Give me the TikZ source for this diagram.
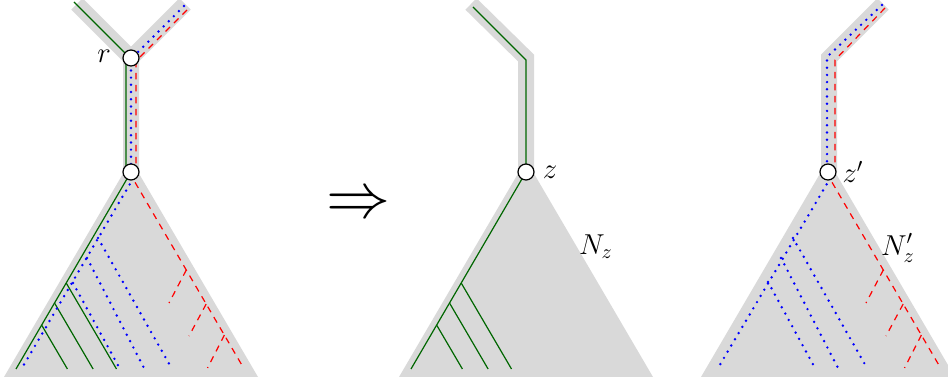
\documentclass[tikz,border=0pt]{standalone}
\definecolor{bandgray}{gray}{0.85}
\definecolor{treegreen}{rgb}{0,0.4,0}
\tikzset{
  band/.style={draw=bandgray, line width=8pt, line join=miter},
  tri/.style={fill=bandgray},
  gline/.style={draw=treegreen, line width=0.6pt},
  bline/.style={draw=blue, line width=1.35pt, dash pattern=on 0pt off 3.6pt, line cap=round},
  rline/.style={draw=red, line width=0.6pt, dash pattern=on 3.2pt off 2.8pt},
  vert/.style={circle, draw, fill=white, line width=0.6pt, inner sep=0pt, minimum size=8pt},
  lbl/.style={font=\Large, inner sep=0pt}
}
\begin{document}
\begin{tikzpicture}[x=0.5pt, y=-0.5pt]
\useasboundingbox (0,0) rectangle (948,383);
\clip (0,0) rectangle (948,383);

% ---------- left figure ----------
\begin{scope}[shift={(131,0)}]
  \coordinate (Lgt) at (-54,4); \coordinate (Lrt) at (54,4);
  \coordinate (Lr) at (0,58); \coordinate (Lz) at (0,172);
  \draw[band] (Lgt) -- (Lr) -- (Lz);
  \draw[band] (Lrt) -- (Lr);
  \fill[tri] (0,160) -- (-127,377) -- (127,377) -- cycle;
  % stem lines
  \draw[gline] (-57,2) -- (-5,54) -- (-5,172);
  \draw[bline] (53,6) -- (0,59) -- (0,172);
  \draw[rline] (56,10) -- (5,61) -- (5,172);
  % triangle content
  \draw[gline] (0,172) -- (-115,369);
  \draw[gline] (-89.4,325) -- (-63.6,369);
  \draw[gline] (-76.5,303) -- (-37.9,369);
  \draw[gline] (-64.8,283) -- (-14.5,369);
  \draw[bline] (6,172) -- (-109,368);
  \draw[bline] (-33,238) -- (41,369);
  \draw[bline] (-44,258) -- (13,368);
  \draw[bline] (-58,283) -- (-11,369);
  \draw[rline] (-2,172) -- (112,367);
  \draw[rline] (55.3,270) -- (38,303);
  \draw[rline] (75.2,304) -- (58,336);
  \draw[rline] (93.4,335) -- (76.5,368);
  \node[vert] (r) at (Lr) {};
  \node[vert] (zl) at (Lz) {};
  \node[lbl] (rlab) at (-27,56) {$r$};
\end{scope}

% ---------- arrow ----------
\node (impl) at (358,206) {\scalebox{3.2}{$\Rightarrow$}};

% ---------- middle figure ----------
\begin{scope}[shift={(526,0)}]
  \coordinate (Mt) at (-55,4); \coordinate (Mc) at (0,58); \coordinate (Mz) at (0,172);
  \draw[band] (Mt) -- (Mc) -- (Mz);
  \fill[tri] (0,160) -- (-127,377) -- (127,377) -- cycle;
  \draw[gline] (-53,7) -- (0,60) -- (0,172);
  \draw[gline] (0,172) -- (-115,369);
  \draw[gline] (-89.4,325) -- (-63.6,369);
  \draw[gline] (-76.5,303) -- (-37.9,369);
  \draw[gline] (-64.8,283) -- (-14.5,369);
  \node[vert] (z) at (Mz) {};
  \node[lbl] (zlab) at (24,172) {$z$};
  \node[lbl] (Nz) at (70,247) {$N_z$};
\end{scope}

% ---------- right figure ----------
\begin{scope}[shift={(828,0)}]
  \coordinate (Rt) at (55,4); \coordinate (Rc) at (1,58); \coordinate (Rz) at (1,172);
  \draw[band] (Rt) -- (Rc) -- (Rz);
  \fill[tri] (0,160) -- (-127,377) -- (127,377) -- cycle;
  \draw[bline] (54,5) -- (-1,57) -- (-1,172);
  \draw[rline] (57,8) -- (7,60) -- (7,172);
  \draw[bline] (6,172) -- (-110,368);
  \draw[bline] (-35,238) -- (39,368);
  \draw[bline] (-47,258) -- (10,368);
  \draw[bline] (-60,282) -- (-13,368);
  \draw[rline] (-2,172) -- (112,367);
  \draw[rline] (55.3,270) -- (38,303);
  \draw[rline] (75.2,304) -- (58,336);
  \draw[rline] (93.4,335) -- (76.5,368);
  \node[vert] (zp) at (0,172) {};
  \node[lbl] (zplab) at (25,172) {$z'$};
  \node[lbl] (Nzp) at (70,248) {$N'_z$};
\end{scope}
\end{tikzpicture}
\end{document}
